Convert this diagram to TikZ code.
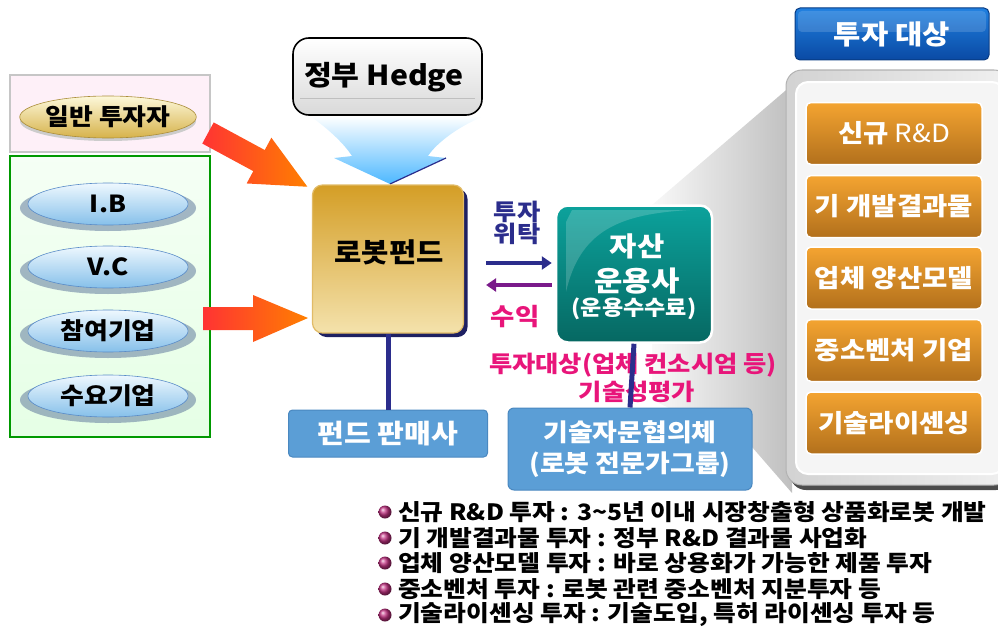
\documentclass[tikz,border=0pt]{standalone}
\usepackage{fontspec}
\usepackage{graphicx}
\setmainfont{Noto Sans CJK KR}[FakeStretch=1.1]
\usetikzlibrary{shapes.geometric,shadows,arrows.meta,calc}
\newcommand\fsz[1]{\fontsize{#1}{#1}\selectfont}
\newcommand\fszb[2]{\fontsize{#1}{#2}\selectfont}
\definecolor{navyc}{HTML}{2B2D8C}
\definecolor{purplec}{HTML}{7A1A8A}
\definecolor{pinkc}{HTML}{E8157A}
\definecolor{bluetop}{HTML}{EEF8FE}
\definecolor{bluebot}{HTML}{86C0EA}
\definecolor{blueedge}{HTML}{5A8CC8}
\definecolor{yeltop}{HTML}{FDF8DA}
\definecolor{yelbot}{HTML}{D6B24A}
\definecolor{fundtop}{HTML}{D49E26}
\definecolor{fundbot}{HTML}{F4E2AC}
\definecolor{tealtop}{HTML}{0CA29C}
\definecolor{tealbot}{HTML}{066862}
\definecolor{skyc}{HTML}{5B9ED6}
\definecolor{skyedge}{HTML}{4A88C0}
\definecolor{orangetop}{HTML}{F4A431}
\definecolor{orangebot}{HTML}{B2701C}
\definecolor{titletop}{HTML}{2080E0}
\definecolor{titlebot}{HTML}{0A4AA4}
\definecolor{bulletc}{HTML}{C03080}
\begin{document}
\begin{tikzpicture}[x=1pt,y=-1pt,
  lbl/.style={inner sep=0pt, font=\bfseries\fsz{23}},
  blueell/.style={ellipse, minimum width=160pt, minimum height=42pt, inner sep=0pt,
    top color=bluetop, bottom color=bluebot, draw=blueedge, line width=0.6pt, font=\bfseries\fsz{23.5}},
  yelell/.style={blueell, top color=yeltop, bottom color=yelbot, draw=yelbot!80!black},
  skybox/.style={rounded corners=4pt, fill=skyc, draw=skyedge, line width=1pt, text=white,
    font=\bfseries\fsz{26.5}, align=center, inner sep=0pt},
  obox/.style={rounded corners=5pt, minimum width=176pt, minimum height=62pt, inner sep=0pt,
    top color=orangetop, bottom color=orangebot, draw=white, line width=1.5pt, text=white,
    font=\bfseries\fsz{25}},
  vline/.style={navyc, line width=5pt},
  btxt/.style={anchor=west, inner sep=0pt, font=\bfseries\fsz{22.5}},
  redarrow/.style={left color=red!80!white, right color=orange, draw=none}
]
\useasboundingbox (0,0) rectangle (998,634);

% grey funnel behind
\path[left color=white!95!gray, right color=gray!50] (792,85) -- (652,205) -- (652,400) -- (752,447) -- (792,493) -- cycle;

% right panel
\fill[black!70, rounded corners=16pt] (790,76) rectangle (1012,490);
\path[rounded corners=16pt, left color=gray!35, right color=gray!12, draw=gray!60, line width=1pt] (786,70) rectangle (1010,485);
\path[rounded corners=12pt, fill=gray!8, draw=white, line width=2pt] (796,82) rectangle (1004,474);

% title
\node[rounded corners=5pt, minimum width=194pt, minimum height=52pt, inner sep=0pt,
  top color=titletop, bottom color=titlebot, draw=titlebot!80!black, line width=1pt,
  text=white, font=\bfseries\fsz{27}] (title) at (892,34) {투자 대상};
\fill[white, opacity=0.15, rounded corners=4pt] (798,11) rectangle (986,32);

% orange boxes
\node[obox] (o1) at (894,133.5) {신규 {\mdseries R\&D}};
\node[obox] (o2) at (894,206.5) {기 개발결과물};
\node[obox] (o3) at (894,278) {업체 양산모델};
\node[obox] (o4) at (894,350.5) {중소벤처 기업};
\node[obox] (o5) at (894,423) {기술라이센싱};

% left panel
\path[fill=magenta!6, draw=gray!45, line width=1.2pt] (10,75) rectangle (210,152);
\path[top color=green!4!white, bottom color=green!10!white, draw=green!60!black, line width=1.5pt] (10,156) rectangle (210,437);

\fill[gray!40] (108,121) ellipse [x radius=88, y radius=20];
\node[yelell, minimum width=156pt, minimum height=42pt] (inv) at (108,117) {일반 투자자};

\foreach \y in {208,271,335,400} {\fill[blueedge!50!gray, opacity=0.6] (108,\y) ellipse [x radius=88, y radius=23];}
\node[blueell] (ib) at (108,204) {I.B};
\node[blueell] (vc) at (108,267) {V.C};
\node[blueell] (pc) at (108,331) {참여기업};
\node[blueell] (dc) at (108,396) {수요기업};

% red arrows
\begin{scope}[shift={(208,133)}, rotate=-28.4]
  \path[redarrow] (0,-12) -- (58,-12) -- (58,-26) -- (113,0) -- (58,26) -- (58,12) -- (0,12) -- cycle;
\end{scope}
\path[redarrow] (203,307) -- (253,307) -- (253,295) -- (308,318) -- (253,342) -- (253,330) -- (203,330) -- cycle;

% hedge down arrow
\path[top color=white, bottom color=cyan!60!blue!70!white]
  (310,116) .. controls (330,130) and (345,145) .. (352,156) -- (334,158) -- (390,184)
  -- (446,158) -- (428,156) .. controls (435,145) and (455,128) .. (484,116) -- cycle;
\draw[navyc, line width=1.2pt] (446,158) -- (390,184);

% hedge box
\node[rounded corners=16pt, minimum width=189pt, minimum height=77pt, inner sep=0pt,
  top color=white, bottom color=gray!30, draw=black, line width=1.6pt] (hedge) at (387.5,76.5) {};
\draw[gray!50, line width=0.8pt] (300,98) -- (475,98);
\node[lbl, font=\bfseries\fsz{27.5}] (hedget) at (384,77) {정부 Hedge};

% fund box
\node[rounded corners=10pt, minimum width=151pt, minimum height=148pt, inner sep=0pt,
  top color=fundtop, bottom color=fundbot, draw=fundtop!70!white, line width=1.2pt,
  drop shadow={shadow xshift=4pt, shadow yshift=-4pt, fill=navyc!70!black, opacity=1}] (fund) at (388,259) {};
\node[lbl, font=\bfseries\fsz{27}] (fundt) at (389,252) {로봇펀드};

% asset manager
\node[rounded corners=12pt, minimum width=156pt, minimum height=137pt, inner sep=0pt,
  top color=tealtop, bottom color=tealbot, draw=white, line width=2.5pt] (am) at (634,274) {};
\fill[white, opacity=0.18] (572,210) -- (690,210) .. controls (620,214) and (580,230) .. (566,292) -- (566,222) -- cycle;
\node[lbl, text=white, font=\bfseries\fsz{27}] (amt1) at (637,246) {자산};
\node[lbl, text=white, font=\bfseries\fsz{28}] (amt2) at (637,281) {운용사};
\node[lbl, text=white, font=\bfseries\fsz{21}] (amt3) at (634,309) {(운용수수료)};

% arrows between
\coordinate (a1) at ($(fund.east)+(22,4)$);
\coordinate (a2) at ($(fund.east)+(22,26)$);
\draw[navyc, line width=3.5pt, -{Triangle[length=10pt,width=13pt]}, shorten >=3pt] (a1) -- (a1 -| am.west);
\draw[purplec, line width=3.5pt, {Triangle[length=10pt,width=13pt]}-, shorten >=3pt] (a2) -- (a2 -| am.west);
\node[lbl, text=navyc, align=center, font=\bfseries\fszb{23}{20}] (trust) at (517,223) {투자\\위탁};
\node[lbl, text=pinkc, font=\bfseries\fsz{24}] (ret) at (515,317) {수익};

% lower boxes
\node[skybox, minimum width=199pt, minimum height=47pt] (sales) at (388,433.5) {펀드 판매사};
\node[skybox, minimum width=244pt, minimum height=82pt, font=\bfseries\fszb{24.5}{31}, rounded corners=6pt] (tech) at (630,449) {기술자문협의체\\(로봇 전문가그룹)};

\node[lbl, text=pinkc] (eval1) at (633,365) {투자대상(업체 컨소시엄 등)};
\node[lbl, text=pinkc] (eval2) at (637,392) {기술성평가};

\draw[vline] (fund.south) -- (sales.north);
\draw[vline] (am.south) -- (tech.north);

% bullets
\foreach \y in {512,538,563,589,615} {\shade[ball color=bulletc] (385,\y) circle (6.5);}
\node[btxt] (b1) at (398,512) {신규 R\&D 투자 : 3\textasciitilde5년 이내 시장창출형 상품화로봇 개발};
\node[btxt] (b2) at (398,538) {기 개발결과물 투자 : 정부 R\&D 결과물 사업화};
\node[btxt] (b3) at (398,563) {업체 양산모델 투자 : 바로 상용화가 가능한 제품 투자};
\node[btxt] (b4) at (398,589) {중소벤처 투자 : 로봇 관련 중소벤처 지분투자 등};
\node[btxt] (b5) at (398,615) {기술라이센싱 투자 : 기술도입, 특허 라이센싱 투자 등};
\end{tikzpicture}
\end{document}
